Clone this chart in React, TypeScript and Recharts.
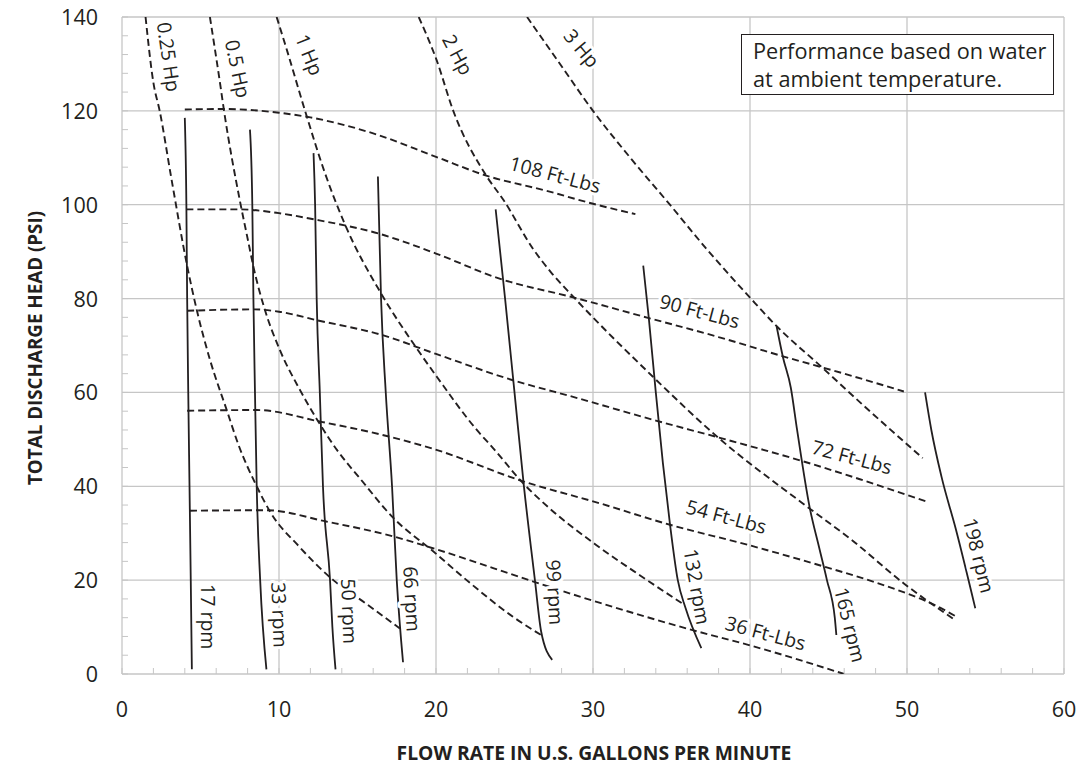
import React from 'react';
import { LineChart, Line, XAxis, YAxis, ReferenceLine, ReferenceDot } from 'recharts';

const INK = '#231f20';
const GRID = '#c6c6c6';
const FONT = '"Open Sans", sans-serif';

// axis values
const xMajor = [0, 10, 20, 30, 40, 50, 60];
const yMajor = [0, 20, 40, 60, 80, 100, 120, 140];
const xTicks = [0, 2, 4, 6, 8, 10, 12, 14, 16, 18, 20, 22, 24, 26, 28, 30, 32, 34, 36, 38, 40, 42, 44, 46, 48, 50, 52, 54, 56, 58, 60];
const yTicks = [0, 4, 8, 12, 16, 20, 24, 28, 32, 36, 40, 44, 48, 52, 56, 60, 64, 68, 72, 76, 80, 84, 88, 92, 96, 100, 104, 108, 112, 116, 120, 124, 128, 132, 136, 140];

// speed lines (solid)
const rpm17 = [{ x: 4.0, y: 118.5 }, { x: 4.1, y: 100 }, { x: 4.15, y: 80 }, { x: 4.22, y: 60 }, { x: 4.3, y: 40 }, { x: 4.38, y: 20 }, { x: 4.45, y: 1 }];
const rpm33 = [{ x: 8.15, y: 116 }, { x: 8.3, y: 100 }, { x: 8.37, y: 80 }, { x: 8.47, y: 60 }, { x: 8.58, y: 40 }, { x: 8.8, y: 20 }, { x: 9.2, y: 1 }];
const rpm50 = [{ x: 12.2, y: 111 }, { x: 12.3, y: 100 }, { x: 12.4, y: 80 }, { x: 12.6, y: 60 }, { x: 12.8, y: 40 }, { x: 13.25, y: 20 }, { x: 13.4, y: 10 }, { x: 13.6, y: 1 }];
const rpm66 = [{ x: 16.3, y: 106 }, { x: 16.5, y: 80 }, { x: 16.8, y: 60 }, { x: 17.2, y: 40 }, { x: 17.5, y: 20 }, { x: 17.9, y: 2.5 }];
const rpm99 = [{ x: 23.8, y: 99 }, { x: 24.4, y: 80 }, { x: 25.0, y: 60 }, { x: 25.6, y: 40 }, { x: 26.3, y: 20 }, { x: 26.7, y: 9 }, { x: 27.4, y: 3 }];
const rpm132 = [{ x: 33.2, y: 87 }, { x: 33.55, y: 76 }, { x: 34.0, y: 60 }, { x: 34.45, y: 45 }, { x: 34.9, y: 32 }, { x: 35.4, y: 20 }, { x: 35.9, y: 14 }, { x: 36.9, y: 5.5 }];
const rpm165 = [{ x: 41.7, y: 74 }, { x: 42.1, y: 67.5 }, { x: 42.6, y: 61 }, { x: 43.0, y: 52 }, { x: 43.8, y: 35.5 }, { x: 44.4, y: 27 }, { x: 44.9, y: 20 }, { x: 45.4, y: 12 }, { x: 45.5, y: 8.3 }];
const rpm198 = [{ x: 51.15, y: 60 }, { x: 51.55, y: 52 }, { x: 52.2, y: 42 }, { x: 53.1, y: 31 }, { x: 54.35, y: 14 }];

// torque lines (dashed)
const ft108 = [{ x: 4, y: 120.3 }, { x: 6.5, y: 120.4 }, { x: 10, y: 119.6 }, { x: 12, y: 118.6 }, { x: 16, y: 115.2 }, { x: 20, y: 110.2 }, { x: 23.2, y: 106.2 }, { x: 27, y: 103 }, { x: 30, y: 100.2 }, { x: 32.7, y: 98 }];
const ft90 = [{ x: 4.1, y: 99 }, { x: 7.5, y: 99 }, { x: 10, y: 98.2 }, { x: 12.2, y: 96.9 }, { x: 16.4, y: 93.8 }, { x: 20, y: 89.6 }, { x: 24, y: 84.3 }, { x: 28.8, y: 80.2 }, { x: 33.5, y: 75.9 }, { x: 38, y: 71.8 }, { x: 42.1, y: 67.7 }, { x: 46, y: 64 }, { x: 49.8, y: 60.2 }];
const ft72 = [{ x: 4.15, y: 77.4 }, { x: 8.4, y: 77.7 }, { x: 10, y: 77.2 }, { x: 12.4, y: 75.4 }, { x: 16.6, y: 72.2 }, { x: 20, y: 68.2 }, { x: 24.9, y: 62.6 }, { x: 29, y: 58.8 }, { x: 34, y: 54 }, { x: 38, y: 50.4 }, { x: 43.3, y: 45.4 }, { x: 47, y: 41.5 }, { x: 51.2, y: 36.8 }];
const ft54 = [{ x: 4.15, y: 56.1 }, { x: 8.6, y: 56.25 }, { x: 12.6, y: 53.8 }, { x: 17, y: 50.6 }, { x: 19.8, y: 48 }, { x: 25.6, y: 41 }, { x: 30.4, y: 36.4 }, { x: 34.9, y: 31.8 }, { x: 40, y: 27.4 }, { x: 44.7, y: 22.9 }, { x: 48, y: 19.5 }, { x: 52, y: 14.3 }, { x: 53.1, y: 12.3 }];
const ft36 = [{ x: 4.33, y: 34.8 }, { x: 9.2, y: 34.9 }, { x: 13, y: 32.5 }, { x: 17.3, y: 29.3 }, { x: 19.8, y: 26.8 }, { x: 26.2, y: 19.7 }, { x: 28.5, y: 17.2 }, { x: 30.4, y: 15.2 }, { x: 36.4, y: 9.3 }, { x: 40, y: 6.1 }, { x: 46, y: 0 }];

// power lines (dashed)
const hp025 = [{ x: 1.5, y: 140 }, { x: 2.0, y: 126 }, { x: 2.4, y: 120 }, { x: 3.16, y: 105.3 }, { x: 4.16, y: 86.8 }, { x: 4.76, y: 77.6 }, { x: 5.6, y: 67 }, { x: 6.67, y: 56.25 }, { x: 7.4, y: 49 }, { x: 8.58, y: 40 }, { x: 9.43, y: 34.6 }, { x: 11.3, y: 27.1 }, { x: 13.46, y: 20 }, { x: 15.5, y: 15.1 }, { x: 17.7, y: 9.7 }];
const hp05 = [{ x: 5.6, y: 140 }, { x: 6.24, y: 126 }, { x: 6.5, y: 120 }, { x: 7.5, y: 101 }, { x: 8.05, y: 92 }, { x: 8.37, y: 86.8 }, { x: 9.1, y: 77.6 }, { x: 10.06, y: 69 }, { x: 11.34, y: 60.5 }, { x: 12.5, y: 53.8 }, { x: 13.7, y: 47.7 }, { x: 15.2, y: 41.5 }, { x: 17.3, y: 33.2 }, { x: 19.8, y: 26.2 }, { x: 22.2, y: 19.3 }, { x: 24.9, y: 12.2 }, { x: 26.7, y: 8.3 }];
const hp1 = [{ x: 9.85, y: 140 }, { x: 10.5, y: 133 }, { x: 11.66, y: 120 }, { x: 12.9, y: 107 }, { x: 14.2, y: 95.8 }, { x: 16.5, y: 81.1 }, { x: 18.77, y: 69.4 }, { x: 20.04, y: 63.4 }, { x: 22.6, y: 52 }, { x: 23.65, y: 48.1 }, { x: 25.56, y: 40.6 }, { x: 27.2, y: 35.4 }, { x: 30.2, y: 27.5 }, { x: 33, y: 21 }, { x: 35.7, y: 15 }];
const hp2 = [{ x: 18.9, y: 140 }, { x: 20.04, y: 130.8 }, { x: 21.1, y: 120 }, { x: 23.2, y: 106.2 }, { x: 24.3, y: 101 }, { x: 26.2, y: 90.5 }, { x: 27.3, y: 85.7 }, { x: 28.8, y: 80.2 }, { x: 33.8, y: 63.4 }, { x: 38, y: 50.3 }, { x: 43.3, y: 36.5 }, { x: 46.5, y: 28.5 }, { x: 49.8, y: 19.3 }, { x: 53.1, y: 11.4 }];
const hp3 = [{ x: 25.8, y: 140 }, { x: 28, y: 129.5 }, { x: 30, y: 120 }, { x: 32.5, y: 109.5 }, { x: 34.9, y: 100 }, { x: 37.2, y: 90.7 }, { x: 40, y: 80.2 }, { x: 41.7, y: 74.1 }, { x: 44.5, y: 65.6 }, { x: 47.3, y: 57 }, { x: 51, y: 46 }];

const speedLines = [rpm17, rpm33, rpm50, rpm66, rpm99, rpm132, rpm165, rpm198];
const dashedLines = [ft108, ft90, ft72, ft54, ft36, hp025, hp05, hp1, hp2, hp3];

const curveLabels = [
  { text: '0.25 Hp', x: 3.0, y: 131.5, angle: 82 },
  { text: '0.5 Hp', x: 7.4, y: 129, angle: 78 },
  { text: '1 Hp', x: 11.95, y: 132, angle: 68 },
  { text: '2 Hp', x: 21.4, y: 132, angle: 62 },
  { text: '3 Hp', x: 29.3, y: 133.4, angle: 50 },
  { text: '108 Ft-Lbs', x: 27.6, y: 106.5, angle: 15 },
  { text: '90 Ft-Lbs', x: 36.8, y: 77.4, angle: 15 },
  { text: '72 Ft-Lbs', x: 46.5, y: 46.3, angle: 15 },
  { text: '54 Ft-Lbs', x: 38.5, y: 33.6, angle: 15 },
  { text: '36 Ft-Lbs', x: 41, y: 8.8, angle: 15 },
  { text: '17 rpm', x: 5.5, y: 12.2, angle: 90 },
  { text: '33 rpm', x: 10.06, y: 12.6, angle: 88 },
  { text: '50 rpm', x: 14.5, y: 13.4, angle: 88 },
  { text: '66 rpm', x: 18.5, y: 16, angle: 87 },
  { text: '99 rpm', x: 27.6, y: 17.4, angle: 87 },
  { text: '132 rpm', x: 36.65, y: 18.6, angle: 80 },
  { text: '165 rpm', x: 46.4, y: 10.5, angle: 76 },
  { text: '198 rpm', x: 54.6, y: 25.3, angle: 76 },
];

const XTick = (props: any) => {
  const { x, y, payload } = props;
  const v = payload.value;
  return (
    <g>
      <line x1={x} y1={y} x2={x} y2={y - 6} stroke={GRID} />
      {v % 10 === 0 && (
        <text x={x} y={y + 43} textAnchor="middle" fill={INK} fontSize={21.5} fontFamily={FONT}>
          {v}
        </text>
      )}
    </g>
  );
};

const YTick = (props: any) => {
  const { x, y, payload } = props;
  const v = payload.value;
  return (
    <g>
      <line x1={x} y1={y} x2={x + 6} y2={y} stroke={GRID} />
      {v % 20 === 0 && (
        <text x={x - 24} y={y + 8} textAnchor="end" fill={INK} fontSize={21.5} fontFamily={FONT}>
          {v}
        </text>
      )}
    </g>
  );
};

const App: React.FC = () => {
  return (
    <div style={{ position: 'absolute', left: 0, top: 0, width: 1080, height: 769, background: '#fff' }}>
      <LineChart width={1080} height={769} margin={{ top: 17, right: 16, bottom: 0, left: 0 }}>
        <XAxis
          type="number"
          dataKey="x"
          domain={[0, 60]}
          ticks={xTicks}
          interval={0}
          tick={XTick}
          tickLine={false}
          axisLine={false}
          tickSize={0}
          tickMargin={0}
          height={95}
          allowDataOverflow
        />
        <YAxis
          type="number"
          dataKey="y"
          domain={[0, 140]}
          ticks={yTicks}
          interval={0}
          tick={YTick}
          tickLine={false}
          axisLine={false}
          tickSize={0}
          tickMargin={0}
          width={122}
          allowDataOverflow
        />
        {xMajor.map((v) => (
          <ReferenceLine key={'gx' + v} x={v} stroke={GRID} strokeWidth={1.3} />
        ))}
        {yMajor.map((v) => (
          <ReferenceLine key={'gy' + v} y={v} stroke={GRID} strokeWidth={1.3} />
        ))}
        {dashedLines.map((d, i) => (
          <Line
            key={'d' + i}
            data={d}
            dataKey="y"
            type="monotone"
            stroke={INK}
            strokeWidth={1.9}
            strokeDasharray="7 4"
            dot={false}
            activeDot={false}
            isAnimationActive={false}
          />
        ))}
        {speedLines.map((d, i) => (
          <Line
            key={'s' + i}
            data={d}
            dataKey="y"
            type="monotone"
            stroke={INK}
            strokeWidth={1.8}
            dot={false}
            activeDot={false}
            isAnimationActive={false}
          />
        ))}
        {curveLabels.map((l) => (
          <ReferenceDot
            key={l.text}
            x={l.x}
            y={l.y}
            r={0}
            shape={(p: any) => (
              <text
                x={p.cx}
                y={p.cy}
                transform={`rotate(${l.angle} ${p.cx} ${p.cy})`}
                textAnchor="middle"
                dominantBaseline="central"
                fontSize={19.5}
                fontFamily={FONT}
                fill={INK}
                stroke="#fff"
                strokeWidth={6}
                strokeLinejoin="round"
                paintOrder="stroke"
              >
                {l.text}
              </text>
            )}
          />
        ))}
      </LineChart>

      <div
        style={{
          position: 'absolute',
          left: 741,
          top: 34,
          width: 313,
          height: 61,
          border: `1px solid ${INK}`,
          background: '#fff',
          fontFamily: FONT,
          fontSize: 21.7,
          lineHeight: '28px',
          color: INK,
          padding: '2px 0 0 11px',
          boxSizing: 'border-box',
          whiteSpace: 'nowrap',
        }}
      >
        Performance based on water
        <br />
        at ambient temperature.
      </div>

      <div
        style={{
          position: 'absolute',
          left: 35,
          top: 348,
          transform: 'translate(-50%, -50%) rotate(-90deg)',
          fontFamily: FONT,
          fontWeight: 700,
          fontSize: 18.8,
          color: INK,
          whiteSpace: 'nowrap',
        }}
      >
        TOTAL DISCHARGE HEAD (PSI)
      </div>
      <div
        style={{
          position: 'absolute',
          left: 594,
          top: 752,
          transform: 'translate(-50%, -50%)',
          fontFamily: FONT,
          fontWeight: 700,
          fontSize: 19.3,
          color: INK,
          whiteSpace: 'nowrap',
        }}
      >
        FLOW RATE IN U.S. GALLONS PER MINUTE
      </div>
    </div>
  );
};

export default App;
